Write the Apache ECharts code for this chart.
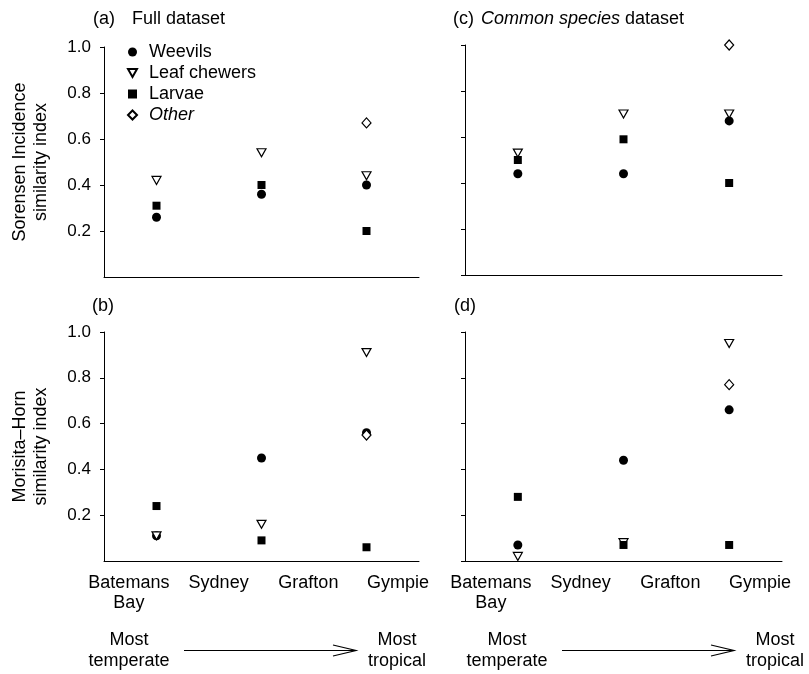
<!DOCTYPE html>
<html>
<head>
<meta charset="utf-8">
<script src="https://cdn.jsdelivr.net/npm/echarts@6/dist/echarts.min.js"></script>
<style>
  html, body { margin: 0; padding: 0; background: #fff; }
  #chart { width: 809px; height: 674px; }
</style>
</head>
<body>
<div id="chart"></div>
<script>
// points sit between neighbouring sites
const comparisons = ['Batemans Bay–Sydney', 'Sydney–Grafton', 'Grafton–Gympie'];
const sites = ['Batemans\nBay', 'Sydney', 'Grafton', 'Gympie'];
const groups = ['Weevils', 'Leaf chewers', 'Larvae', 'Other'];

// (a) Sorensen incidence, full dataset
const sorFullWeevils = [0.26, 0.36, 0.40];
const sorFullChewers = [0.42, 0.54, 0.44];
const sorFullLarvae = [0.31, 0.40, 0.20];
const sorFullOther = [null, null, 0.67];

// (c) Sorensen incidence, common species
const sorCommonWeevils = [0.44, 0.44, 0.67];
const sorCommonChewers = [0.53, 0.70, 0.70];
const sorCommonLarvae = [0.50, 0.59, 0.40];
const sorCommonOther = [null, null, 1.0];

// (b) Morisita-Horn, full dataset
const mhFullWeevils = [0.11, 0.45, 0.56];
const mhFullChewers = [0.11, 0.16, 0.91];
const mhFullLarvae = [0.24, 0.09, 0.06];
const mhFullOther = [null, null, 0.55];

// (d) Morisita-Horn, common species
const mhCommonWeevils = [0.07, 0.44, 0.66];
const mhCommonChewers = [0.02, 0.08, 0.95];
const mhCommonLarvae = [0.28, 0.07, 0.07];
const mhCommonOther = [null, null, 0.77];

const FONT = "'Liberation Sans', Arial, sans-serif";
const triDown = 'path://M0,0L10,0L5,9Z';

const markers = {
  'Weevils': { symbol: 'circle', symbolSize: 9, itemStyle: { color: '#000', opacity: 1 } },
  'Leaf chewers': { symbol: triDown, symbolSize: [9, 8], itemStyle: { color: '#fff', borderColor: '#000', borderWidth: 1.2, opacity: 1 } },
  'Larvae': { symbol: 'rect', symbolSize: 8, itemStyle: { color: '#000', opacity: 1 } },
  'Other': { symbol: 'diamond', symbolSize: [9, 10], itemStyle: { color: '#fff', borderColor: '#000', borderWidth: 1.2, opacity: 1 } }
};

const panels = [
  { grid: { left: 104, top: 47, width: 315, height: 230 }, labels: true,
    name: 'Sorensen Incidence\nsimilarity index',
    data: [sorFullWeevils, sorFullChewers, sorFullLarvae, sorFullOther] },
  { grid: { left: 465, top: 45, width: 317, height: 230 }, labels: false, name: '',
    data: [sorCommonWeevils, sorCommonChewers, sorCommonLarvae, sorCommonOther] },
  { grid: { left: 104, top: 332, width: 315, height: 229 }, labels: true,
    name: 'Morisita–Horn\nsimilarity index',
    data: [mhFullWeevils, mhFullChewers, mhFullLarvae, mhFullOther] },
  { grid: { left: 465, top: 332, width: 317, height: 229 }, labels: false, name: '',
    data: [mhCommonWeevils, mhCommonChewers, mhCommonLarvae, mhCommonOther] }
];

const grids = [], xAxes = [], yAxes = [], series = [];
panels.forEach(function (p, i) {
  grids.push(p.grid);
  xAxes.push({
    type: 'category', gridIndex: i, data: comparisons, boundaryGap: true,
    axisLine: { lineStyle: { color: '#000', width: 1 } },
    axisTick: { inside: true, length: 5, lineStyle: { color: '#000' } },
    axisLabel: { show: false }, splitLine: { show: false }
  });
  yAxes.push({
    type: 'value', gridIndex: i, min: 0, max: 1, interval: 0.2,
    name: p.name, nameLocation: 'middle', nameGap: 52,
    nameTextStyle: { fontFamily: FONT, fontSize: 18, color: '#000', lineHeight: 21 },
    axisLine: { show: true, lineStyle: { color: '#000', width: 1 } },
    axisTick: { show: true, length: 4, lineStyle: { color: '#000' } },
    axisLabel: {
      show: p.labels, showMinLabel: false, margin: 13,
      fontFamily: FONT, fontSize: 17, color: '#000',
      formatter: function (v) { return v.toFixed(1); }
    },
    splitLine: { show: false }
  });
  groups.forEach(function (g, k) {
    series.push(Object.assign({
      type: 'scatter', name: g, xAxisIndex: i, yAxisIndex: i,
      data: p.data[k], z: 2 + k, emphasis: { disabled: true }
    }, markers[g]));
  });
});

// site labels under the two bottom panels
[{ left: 84 }, { left: 446 }].forEach(function (g) {
  const idx = grids.length;
  grids.push({ left: g.left, top: 561, width: 359, height: 1 });
  xAxes.push({
    type: 'category', gridIndex: idx, data: sites, boundaryGap: true,
    axisLine: { show: false }, axisTick: { show: false },
    axisLabel: { margin: 11, fontFamily: FONT, fontSize: 18, color: '#000', lineHeight: 20, interval: 0 }
  });
  yAxes.push({ type: 'value', gridIndex: idx, show: false });
});

const titleStyle = { fontFamily: FONT, fontSize: 18, fontWeight: 'normal', color: '#000',
  rich: { i: { fontFamily: FONT, fontSize: 18, fontStyle: 'italic', color: '#000' } } };
const titles = [
  { text: '(a)', left: 93, top: 10 },
  { text: 'Full dataset', left: 132, top: 10 },
  { text: '(c)', left: 453, top: 10 },
  { text: '{i|Common species} dataset', left: 481, top: 10 },
  { text: '(b)', left: 92, top: 297 },
  { text: '(d)', left: 454, top: 297 }
].map(function (t) { return Object.assign({ padding: 0, textStyle: titleStyle }, t); });

// gradient arrows along the bottom
function arrow(dx) {
  const y = 650.5;
  return [
    { type: 'line', shape: { x1: 184 + dx, y1: y, x2: 356 + dx, y2: y }, style: { stroke: '#000', lineWidth: 1.2 } },
    { type: 'polyline', shape: { points: [[333 + dx, y - 5.5], [356 + dx, y], [333 + dx, y + 5.5]] }, style: { stroke: '#000', lineWidth: 1.2, fill: null } },
    { type: 'text', x: 129 + dx, y: 651, style: { text: 'Most\ntemperate', font: '18px ' + FONT, fill: '#000', align: 'center', verticalAlign: 'middle', lineHeight: 21 } },
    { type: 'text', x: 397 + dx, y: 651, style: { text: 'Most\ntropical', font: '18px ' + FONT, fill: '#000', align: 'center', verticalAlign: 'middle', lineHeight: 21 } }
  ];
}

const chart = echarts.init(document.getElementById('chart'), null, { renderer: 'canvas' });
chart.setOption({
  backgroundColor: '#fff',
  animation: false,
  title: titles,
  legend: {
    orient: 'vertical', left: 127, top: 43, padding: 0, itemWidth: 9, itemHeight: 9, itemGap: 3,
    data: [
      { name: 'Weevils', icon: 'circle' },
      { name: 'Leaf chewers', icon: triDown },
      { name: 'Larvae', icon: 'rect' },
      { name: 'Other', icon: 'diamond' }
    ],
    textStyle: { fontFamily: FONT, fontSize: 18, color: '#000', lineHeight: 18, padding: [0, 0, 0, 7],
      rich: { i: { fontFamily: FONT, fontSize: 18, fontStyle: 'italic', color: '#000' } } },
    formatter: function (n) { return n === 'Other' ? '{i|Other}' : n; },
    selectedMode: false
  },
  grid: grids,
  xAxis: xAxes,
  yAxis: yAxes,
  series: series,
  graphic: arrow(0).concat(arrow(378))
});
</script>
</body>
</html>
